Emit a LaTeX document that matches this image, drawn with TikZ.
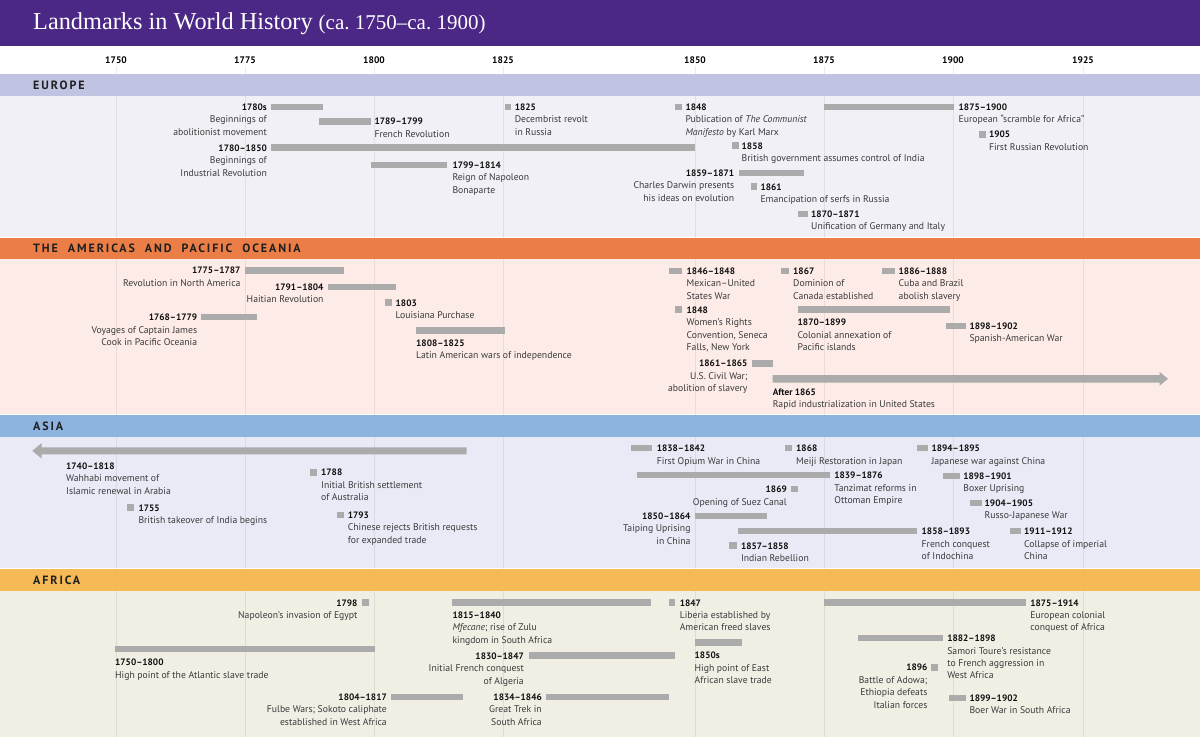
\documentclass[tikz,border=0pt]{standalone}
\usepackage{fontspec}
\setmainfont{PT Sans}
\newfontfamily\titlefont[Ligatures=TeX]{Liberation Serif}
\newfontfamily\headfont[LetterSpace=16]{PT Sans}
\definecolor{titlebg}{HTML}{4B2885}
\definecolor{euh}{HTML}{C1C3E2}
\definecolor{eub}{HTML}{F1F0F7}
\definecolor{amh}{HTML}{EB7D46}
\definecolor{amb}{HTML}{FDEBE8}
\definecolor{ash}{HTML}{8DB3DF}
\definecolor{asb}{HTML}{E8EBF6}
\definecolor{afh}{HTML}{F5B955}
\definecolor{afb}{HTML}{F1EEE4}
\definecolor{barc}{HTML}{ABABAB}
\definecolor{descc}{HTML}{3A3A3A}
\definecolor{yrc}{HTML}{111111}
\newcommand\descsize{\fontsize{9.7}{12.4}\selectfont}
\newcommand\yr[1]{{\fontsize{9.3}{12.4}\selectfont\bfseries\color{yrc}#1}}
\newcommand\hsp{\hspace{10pt}}
\newcommand\tbar[3]{\fill[barc] (#1,#3-3.25) rectangle (#2,#3+3.25);}
\newcommand\evl[4]{\node[evL] (#1) at (#2,#3) {#4};}
\newcommand\evr[4]{\node[evR] (#1) at (#2,#3) {#4};}
\tikzset{
  evL/.style={anchor=north west, align=left, inner sep=0pt, yshift=3.3pt, font=\descsize, text=descc},
  evR/.style={anchor=north east, align=right, inner sep=0pt, yshift=3.3pt, font=\descsize, text=descc},
  head/.style={anchor=west, inner sep=0pt, font=\headfont\bfseries\fontsize{12}{12}\selectfont, text=black!88},
  axlab/.style={inner sep=0pt, font=\bfseries\fontsize{9.5}{9.5}\selectfont, text=black},
  gridl/.style={draw=black, opacity=0.07, line width=1pt}
}
\begin{document}
\begin{tikzpicture}[x=1pt,y=-1pt]
\useasboundingbox (0,0) rectangle (1200,737);
% backgrounds
\fill[white] (0,0) rectangle (1200,737);
\fill[titlebg] (0,0) rectangle (1200,46);
\fill[eub] (0,96) rectangle (1200,236.5);
\fill[amb] (0,259) rectangle (1200,413.5);
\fill[asb] (0,437) rectangle (1200,567.5);
\fill[afb] (0,591) rectangle (1200,737);
% grid
\foreach \gx/\gn in {116/1750,245/1775,374/1800,503/1825,695/1850,824/1875,953/1900,1083/1925}{
  \draw[gridl] (\gx,66) -- (\gx,737);
  \node[axlab] (ax\gn) at (\gx,60) {\gn};
}
% headers
\fill[euh] (0,74) rectangle (1200,96);
\fill[amh] (0,237.5) rectangle (1200,259);
\fill[ash] (0,414.5) rectangle (1200,437);
\fill[afh] (0,568.5) rectangle (1200,591);
\node[head] (hEU) at (33,85) {EUROPE};
\node[head] (hAM) at (33,248.5) {THE\hsp AMERICAS\hsp AND\hsp PACIFIC\hsp OCEANIA};
\node[head] (hAS) at (33,426) {ASIA};
\node[head] (hAF) at (33,580) {AFRICA};
% title
\node[anchor=base west, inner sep=0pt, text=white] (title) at (33,29)
  {\titlefont\fontsize{24.3}{24.3}\selectfont Landmarks in World History {\fontsize{21}{21}\selectfont (ca.~1750–ca.~1900)}};

% ===== EUROPE =====
\tbar{271}{323}{107}
\evr{e1}{267}{107}{\yr{1780s}\\Beginnings of\\abolitionist movement}
\tbar{319}{371}{121.3}
\evl{e2}{374.3}{121.3}{\yr{1789--1799}\\French Revolution}
\tbar{271}{695}{147.7}
\evr{e3}{267}{147.7}{\yr{1780--1850}\\Beginnings of\\Industrial Revolution}
\tbar{371}{447}{164.8}
\evl{e4}{452.3}{165}{\yr{1799--1814}\\Reign of Napoleon\\Bonaparte}
\tbar{504.5}{511}{107}
\evl{e5}{514.7}{107}{\yr{1825}\\Decembrist revolt\\in Russia}
\tbar{675}{682}{107}
\evl{e6}{685.3}{107}{\yr{1848}\\Publication of \textit{The Communist}\\\textit{Manifesto} by Karl Marx}
\tbar{824}{954}{107}
\evl{e7}{958.5}{107}{\yr{1875--1900}\\European “scramble for Africa”}
\tbar{979}{986}{134.4}
\evl{e8}{988.8}{134.4}{\yr{1905}\\First Russian Revolution}
\tbar{732}{738.5}{145.6}
\evl{e9}{741.5}{145.6}{\yr{1858}\\British government assumes control of India}
\tbar{739}{804}{172.8}
\evr{e10}{734.4}{172.8}{\yr{1859--1871}\\Charles Darwin presents\\his ideas on evolution}
\tbar{750.5}{757}{186.7}
\evl{e11}{760.3}{186.7}{\yr{1861}\\Emancipation of serfs in Russia}
\tbar{798}{808}{214}
\evl{e12}{811}{214}{\yr{1870--1871}\\Unification of Germany and Italy}

% ===== AMERICAS =====
\tbar{244.7}{344.3}{270.3}
\evr{a1}{240.7}{270.3}{\yr{1775--1787}\\Revolution in North America}
\tbar{328}{395.7}{286.8}
\evr{a2}{323.7}{286.8}{\yr{1791--1804}\\Haitian Revolution}
\tbar{385}{392}{302.7}
\evl{a3}{395.5}{302.7}{\yr{1803}\\Louisiana Purchase}
\tbar{201}{256.7}{317.2}
\evr{a4}{197.3}{317.2}{\yr{1768--1779}\\Voyages of Captain James\\Cook in Pacific Oceania}
\tbar{416}{504.7}{330.5}
\evl{a5}{416}{343}{\yr{1808--1825}\\Latin American wars of independence}
\tbar{669}{681.5}{270.8}
\evl{a6}{686.5}{270.8}{\yr{1846--1848}\\Mexican--United\\States War}
\tbar{675}{681.5}{309.7}
\evl{a7}{686.5}{309.7}{\yr{1848}\\Women’s Rights\\Convention, Seneca\\Falls, New York}
\tbar{752}{772.6}{363.4}
\evr{a8}{747.7}{363.4}{\yr{1861--1865}\\U.S. Civil War;\\abolition of slavery}
\fill[barc] (772.6,375) -- (1159.5,375) -- (1159.5,371.8) -- (1168,378.8) -- (1159.5,385.8) -- (1159.5,382.6) -- (772.6,382.6) -- cycle;
\evl{a9}{772.6}{392}{\yr{After 1865}\\Rapid industrialization in United States}
\tbar{781.4}{788.7}{270.8}
\evl{a10}{793}{270.8}{\yr{1867}\\Dominion of\\Canada established}
\tbar{882.4}{895.4}{270.8}
\evl{a11}{898.5}{270.8}{\yr{1886--1888}\\Cuba and Brazil\\abolish slavery}
\tbar{797.5}{949.8}{309.7}
\evl{a12}{797.5}{322.3}{\yr{1870--1899}\\Colonial annexation of\\Pacific islands}
\tbar{945.6}{965.5}{325.8}
\evl{a13}{969.3}{325.8}{\yr{1898--1902}\\Spanish-American War}

% ===== ASIA =====
\fill[barc] (466.7,447.3) -- (41.7,447.3) -- (41.7,443) -- (32.3,450.8) -- (41.7,458.6) -- (41.7,454.3) -- (466.7,454.3) -- cycle;
\evl{s1}{66}{465.7}{\yr{1740--1818}\\Wahhabi movement of\\Islamic renewal in Arabia}
\tbar{127}{134}{507.7}
\evl{s2}{138.3}{507.7}{\yr{1755}\\British takeover of India begins}
\tbar{310}{316.7}{472.3}
\evl{s3}{321}{472.3}{\yr{1788}\\Initial British settlement\\of Australia}
\tbar{337}{343.7}{515}
\evl{s4}{347.7}{515}{\yr{1793}\\Chinese rejects British requests\\for expanded trade}
\tbar{630.6}{651.7}{448.2}
\evl{s5}{656.6}{448.2}{\yr{1838--1842}\\First Opium War in China}
\tbar{784.8}{791.7}{448.2}
\evl{s6}{796}{448.2}{\yr{1868}\\Meiji Restoration in Japan}
\tbar{917}{928}{448.2}
\evl{s7}{931.4}{448.2}{\yr{1894--1895}\\Japanese war against China}
\tbar{636.7}{829.6}{475.1}
\evl{s8}{834.2}{475.1}{\yr{1839--1876}\\Tanzimat reforms in\\Ottoman Empire}
\tbar{791}{798}{489.1}
\evr{s9}{787}{489.1}{\yr{1869}\\Opening of Suez Canal}
\tbar{943.3}{959.7}{475.9}
\evl{s10}{963.2}{475.9}{\yr{1898--1901}\\Boxer Uprising}
\tbar{969.7}{981.5}{503}
\evl{s11}{984.5}{503}{\yr{1904--1905}\\Russo-Japanese War}
\tbar{694.5}{766.5}{516}
\evr{s12}{690.7}{516}{\yr{1850--1864}\\Taiping Uprising\\in China}
\tbar{737.8}{917}{531.1}
\evl{s13}{921.5}{531.1}{\yr{1858--1893}\\French conquest\\of Indochina}
\tbar{728.6}{737}{545.7}
\evl{s14}{740.8}{545.7}{\yr{1857--1858}\\Indian Rebellion}
\tbar{1009.5}{1020.6}{531.1}
\evl{s15}{1024}{531.1}{\yr{1911--1912}\\Collapse of imperial\\China}

% ===== AFRICA =====
\tbar{362.3}{368.7}{602.6}
\evr{f1}{357.7}{602.6}{\yr{1798}\\Napoleon’s invasion of Egypt}
\tbar{452.3}{651}{602.6}
\evl{f2}{452.3}{614.7}{\yr{1815--1840}\\\textit{Mfecane}; rise of Zulu\\kingdom in South Africa}
\tbar{115}{375}{649}
\evl{f3}{115}{662.3}{\yr{1750--1800}\\High point of the Atlantic slave trade}
\tbar{529}{675}{655.7}
\evr{f4}{524}{655.7}{\yr{1830--1847}\\Initial French conquest\\of Algeria}
\tbar{391}{462.7}{696.8}
\evr{f5}{387}{696.8}{\yr{1804--1817}\\Fulbe Wars; Sokoto caliphate\\established in West Africa}
\tbar{546}{669}{696.8}
\evr{f6}{542}{696.8}{\yr{1834--1846}\\Great Trek in\\South Africa}
\tbar{669}{675.4}{602.6}
\evl{f7}{679.6}{602.6}{\yr{1847}\\Liberia established by\\American freed slaves}
\tbar{694.5}{741.6}{642.7}
\evl{f8}{694.5}{655.3}{\yr{1850s}\\High point of East\\African slave trade}
\tbar{824}{1025.6}{602.6}
\evl{f9}{1030.2}{602.6}{\yr{1875--1914}\\European colonial\\conquest of Africa}
\tbar{858.3}{943}{638.2}
\evl{f10}{947.1}{638.2}{\yr{1882--1898}\\Samori Toure’s resistance\\to French aggression in\\West Africa}
\tbar{931}{938}{667.3}
\evr{f11}{927.6}{667.3}{\yr{1896}\\Battle of Adowa;\\Ethiopia defeats\\Italian forces}
\tbar{949}{965.5}{697.8}
\evl{f12}{969.3}{697.8}{\yr{1899--1902}\\Boer War in South Africa}
\end{tikzpicture}
\end{document}
